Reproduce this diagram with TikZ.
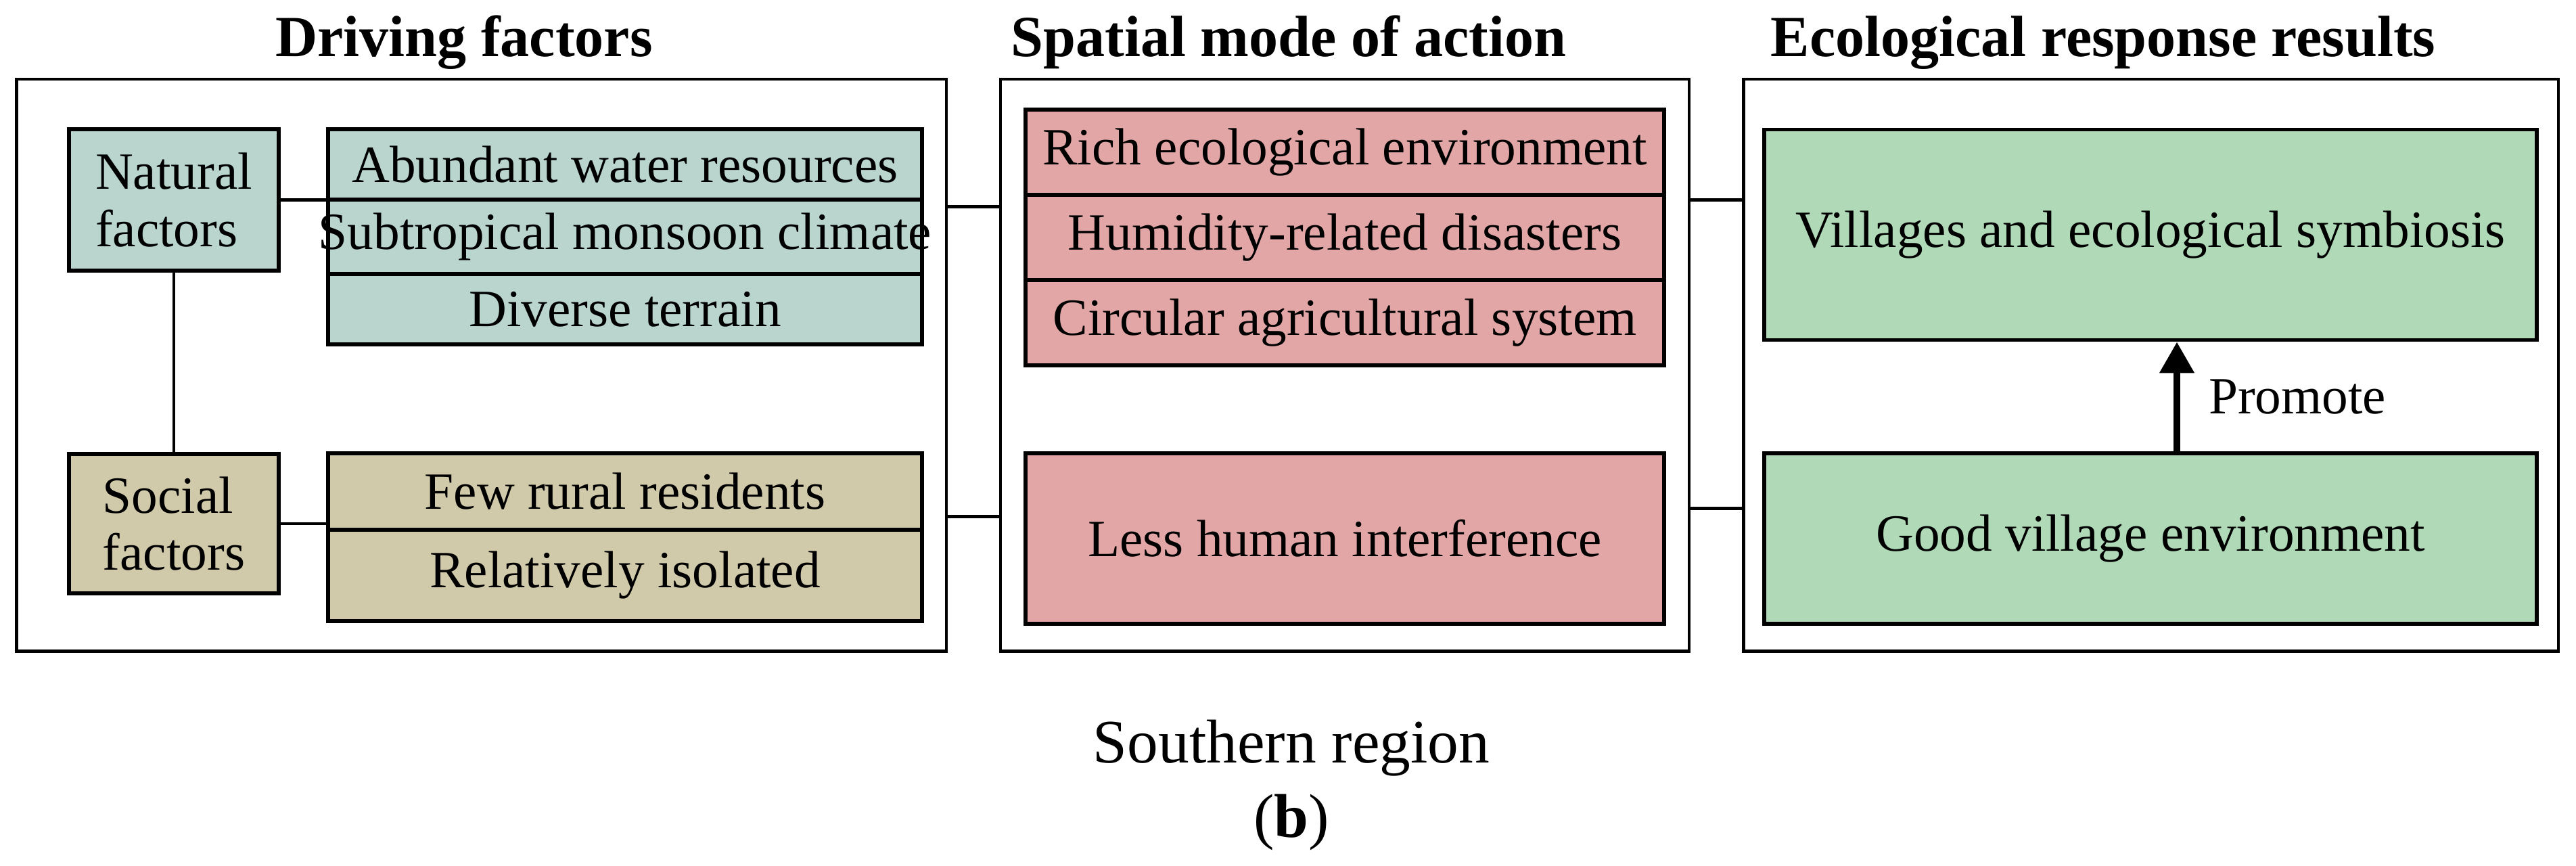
\documentclass[tikz,border=0pt]{standalone}
\usepackage{fontspec}
\setmainfont{Liberation Serif}
\usepackage{xcolor}
\usepackage{tikz}
\usetikzlibrary{arrows.meta}
\definecolor{natcol}{HTML}{B9D5CE}
\definecolor{soccol}{HTML}{D0CAAA}
\definecolor{spacol}{HTML}{E2A6A7}
\definecolor{ecocol}{HTML}{B0D9B8}

\begin{document}
\begin{tikzpicture}[x=1cm, y=1cm, >=Stealth,
    frame/.style={draw, line width=1.3pt, minimum height=8.455cm, inner sep=0pt},
    cell/.style={draw, line width=1.5pt, inner sep=0pt, align=center,
                 font=\fontsize{22}{24}\selectfont},
    link/.style={line width=1.4pt},
    promote/.style={line width=3pt, -{Triangle[length=0.46cm, width=0.49cm]}},
    heading/.style={anchor=base, font=\fontsize{24.5}{28}\selectfont\bfseries}]

    \useasboundingbox (0,0) rectangle (38.08,-12.8);

    % ── Column headings ───────────────────────────────────────────────────────
    \node[heading] (hDrv) at (6.86,-0.84)  {Driving factors};
    \node[heading] (hSpa) at (19.05,-0.84) {Spatial mode of action};
    \node[heading] (hEco) at (31.09,-0.84) {Ecological response results};

    % ── Outer frames ─────────────────────────────────────────────────────────
    \node[frame, minimum width=13.745cm] (frameDrv) at (7.118,-5.3975)   {};
    \node[frame, minimum width=10.18cm]  (frameSpa) at (19.88,-5.3975)   {};
    \node[frame, minimum width=12.045cm] (frameEco) at (31.7975,-5.3975) {};

    % ── Driving factors: natural ─────────────────────────────────────────────
    \node[cell, fill=natcol, minimum width=3.10cm, minimum height=2.09cm, align=left]
        (nat) at (2.57,-2.955) {Natural\\factors};
    \node[cell, fill=natcol, minimum width=8.78cm, minimum height=1.04cm]
        (nat1) at (9.24,-2.43) {Abundant water resources};
    \node[cell, fill=natcol, minimum width=8.78cm, minimum height=1.10cm]
        (nat2) at (9.24,-3.50) {\makebox[8.78cm]{Subtropical monsoon climate}};
    \node[cell, fill=natcol, minimum width=8.78cm, minimum height=1.04cm]
        (nat3) at (9.24,-4.57) {Diverse terrain};

    % ── Driving factors: social ──────────────────────────────────────────────
    \node[cell, fill=soccol, minimum width=3.10cm, minimum height=2.06cm, align=left]
        (soc) at (2.57,-7.74) {Social\\factors};
    \node[cell, fill=soccol, minimum width=8.78cm, minimum height=1.13cm]
        (soc1) at (9.24,-7.265) {Few rural residents};
    \node[cell, fill=soccol, minimum width=8.78cm, minimum height=1.35cm]
        (soc2) at (9.24,-8.505) {Relatively isolated};

    \draw[link] (nat.east) -- (nat.east -| nat1.west);
    \draw[link] (soc.east) -- (soc.east -| soc1.west);
    \draw[link] (nat.south) -- (soc.north);

    % ── Spatial mode of action ───────────────────────────────────────────────
    \node[cell, fill=spacol, minimum width=9.44cm, minimum height=1.26cm]
        (rich) at (19.88,-2.25) {Rich ecological environment};
    \node[cell, fill=spacol, minimum width=9.44cm, minimum height=1.26cm]
        (hum) at (19.88,-3.51) {Humidity-related disasters};
    \node[cell, fill=spacol, minimum width=9.44cm, minimum height=1.26cm]
        (circ) at (19.88,-4.77) {Circular agricultural system};
    \node[cell, fill=spacol, minimum width=9.44cm, minimum height=2.52cm]
        (less) at (19.88,-7.96) {Less human interference};

    % ── Ecological response results ──────────────────────────────────────────
    \node[cell, fill=ecocol, minimum width=11.42cm, minimum height=3.115cm]
        (vil) at (31.79,-3.47) {Villages and ecological symbiosis};
    \node[cell, fill=ecocol, minimum width=11.42cm, minimum height=2.52cm]
        (good) at (31.79,-7.96) {Good village environment};

    \draw[promote] ([xshift=0.39cm]good.north) -- ([xshift=0.39cm]vil.south)
        node[midway, right=0.3cm, font=\fontsize{22}{24}\selectfont] (prm) {Promote};

    % ── Links between frames ─────────────────────────────────────────────────
    \draw[link] ([yshift=2.34cm]frameDrv.east)  -- ([yshift=2.34cm]frameSpa.west);
    \draw[link] ([yshift=-2.24cm]frameDrv.east) -- ([yshift=-2.24cm]frameSpa.west);
    \draw[link] ([yshift=2.44cm]frameSpa.east)  -- ([yshift=2.44cm]frameEco.west);
    \draw[link] ([yshift=-2.12cm]frameSpa.east) -- ([yshift=-2.12cm]frameEco.west);

    % ── Caption ──────────────────────────────────────────────────────────────
    \node[anchor=base, font=\fontsize{26}{30}\selectfont] (cap) at (19.09,-11.28) {Southern region};
    \node[anchor=base, font=\fontsize{26}{30}\selectfont] (lbl) at (19.09,-12.37) {(\textbf{b})};

\end{tikzpicture}
\end{document}
